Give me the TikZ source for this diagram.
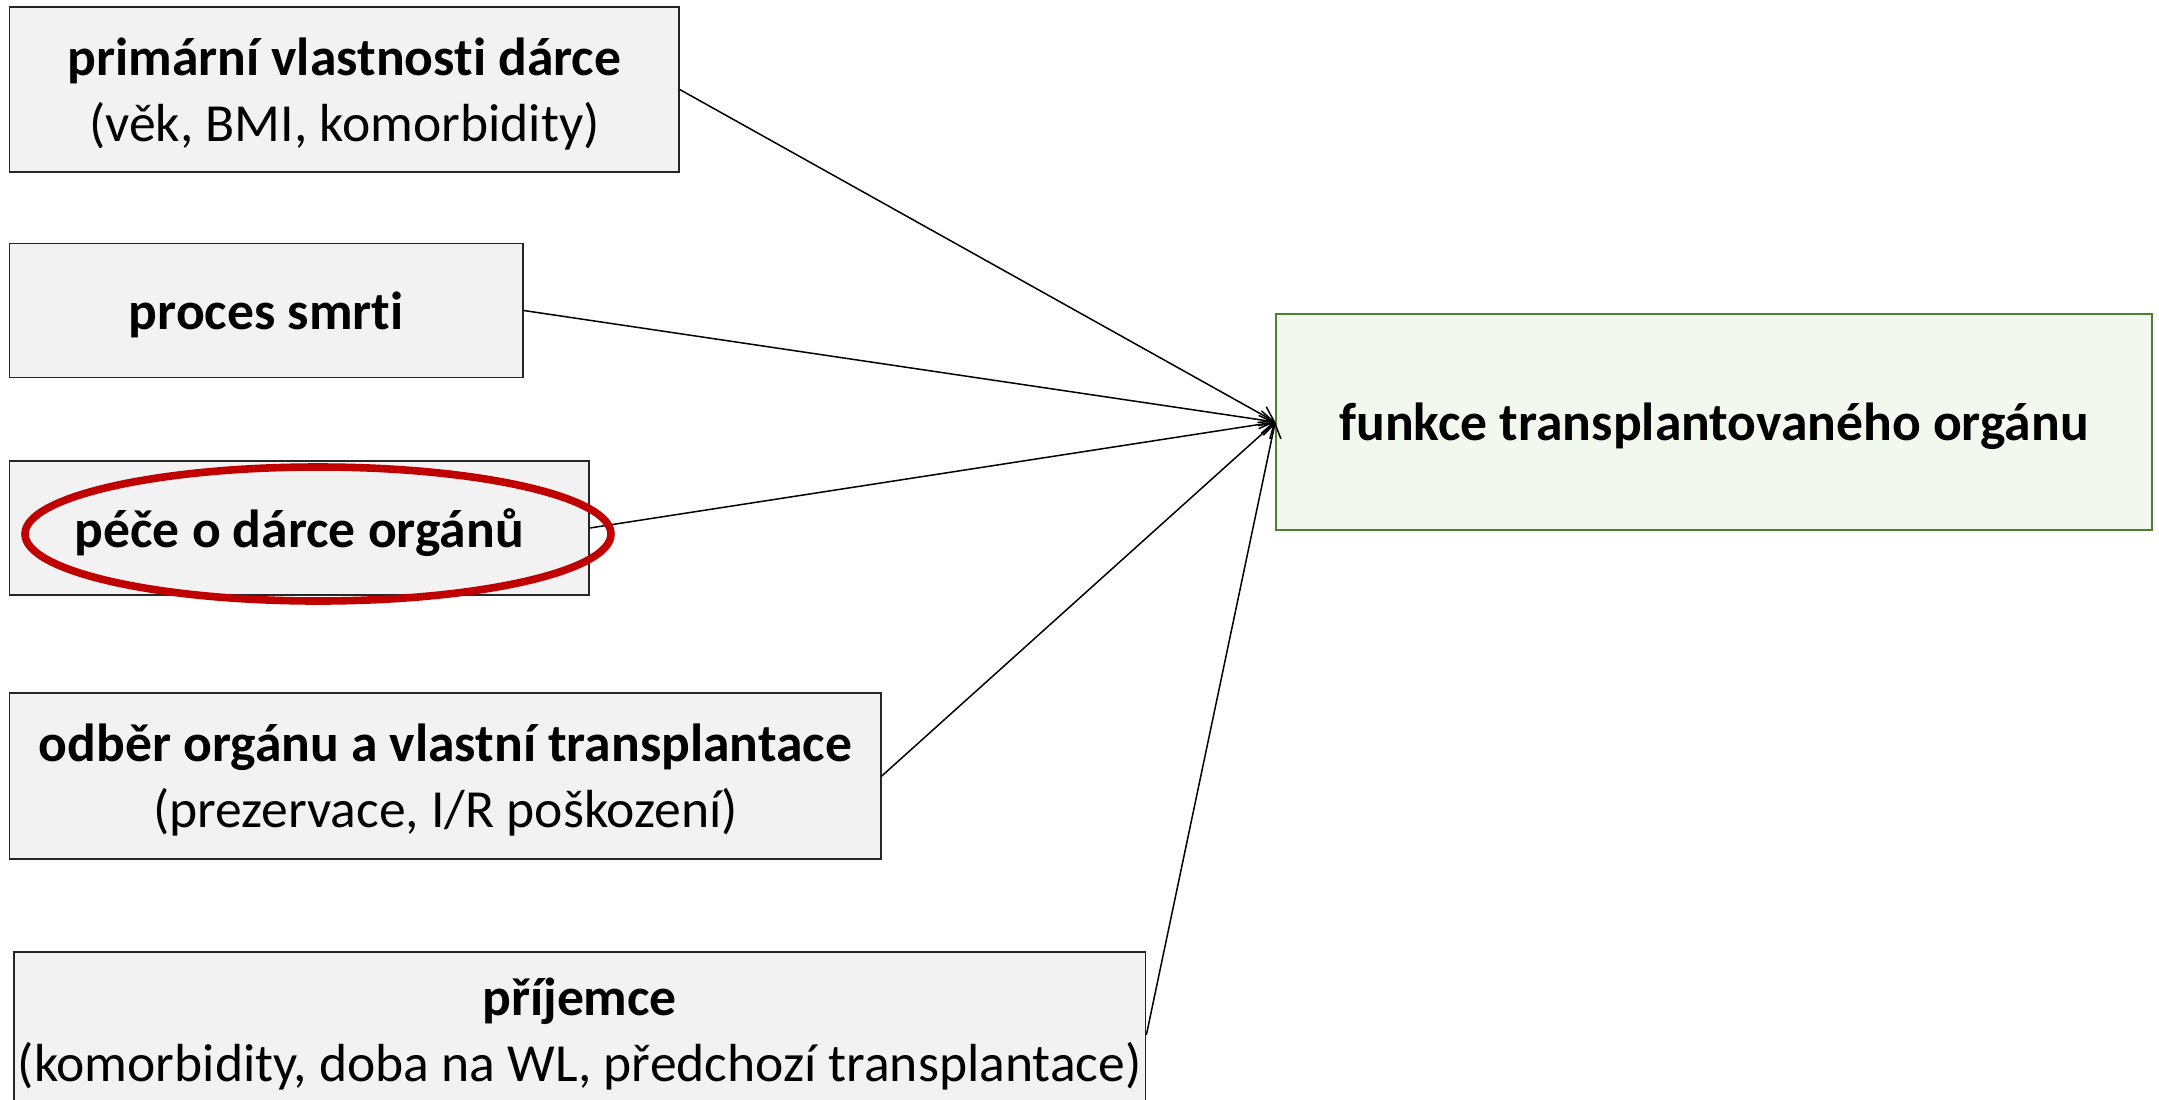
\documentclass[tikz,border=0pt]{standalone}
\usepackage{fontspec}
\setmainfont{Carlito}[Ligatures={NoCommon}]
\usetikzlibrary{arrows.meta,shapes.geometric}
\definecolor{boxgray}{HTML}{F2F2F2}
\definecolor{boxedge}{HTML}{262626}
\definecolor{grfill}{HTML}{F3F8EF}
\definecolor{gredge}{HTML}{507E32}
\definecolor{ellred}{HTML}{C00000}
\begin{document}
\begin{tikzpicture}[x=1pt,y=1pt,
  factor/.style={draw=boxedge,fill=boxgray,line width=0.75pt,rectangle,inner sep=0pt},
  result/.style={draw=gredge,fill=grfill,line width=0.75pt,rectangle,inner sep=0pt},
  lbl/.style={align=center,inner sep=0pt,yshift=-2.2pt,font=\fontsize{26.8}{33}\selectfont},
  conn/.style={line width=0.75pt,-{Straight Barb[length=7pt,width=9pt,line width=0.75pt]}},
  redring/.style={draw=ellred,line width=3.8pt,ellipse,inner sep=0pt}]
\useasboundingbox (0,0) rectangle (1079.5,-549.5);
\node[factor,minimum width=334.7pt,minimum height=82.5pt] (b1) at (172.15,-44.75) {};
\node[factor,minimum width=256.7pt,minimum height=66.8pt] (b2) at (133.15,-155.25) {};
\node[factor,minimum width=289.7pt,minimum height=67pt] (b3) at (149.65,-264) {};
\node[factor,minimum width=435.7pt,minimum height=83.2pt] (b4) at (222.65,-388) {};
\node[factor,minimum width=565.9pt,minimum height=83pt] (b5) at (289.85,-517.5) {};
\node[result,minimum width=438pt,minimum height=108pt] (r) at (857,-211) {};
\foreach \s in {b1,b2,b3,b4,b5} \draw[conn] (\s.east) -- (r.west);
\node[redring,minimum width=293pt,minimum height=67pt] (ell) at (159,-267) {};
\node[lbl] (t1) at (b1.center) {\textbf{primární vlastnosti dárce}\\(věk, BMI, komorbidity)};
\node[lbl] (t2) at (b2.center) {\textbf{proces smrti}};
\node[lbl] (t3) at (b3.center) {\textbf{péče o dárce orgánů}};
\node[lbl] (t4) at (b4.center) {\textbf{odběr orgánu a vlastní transplantace}\\(prezervace, I/R poškození)};
\node[lbl,yshift=2.5pt] (t5) at (b5.center) {\textbf{příjemce}\\(komorbidity, doba na WL, předchozí transplantace)};
\node[lbl] (tr) at (r.center) {\textbf{funkce transplantovaného orgánu}};
\end{tikzpicture}
\end{document}
